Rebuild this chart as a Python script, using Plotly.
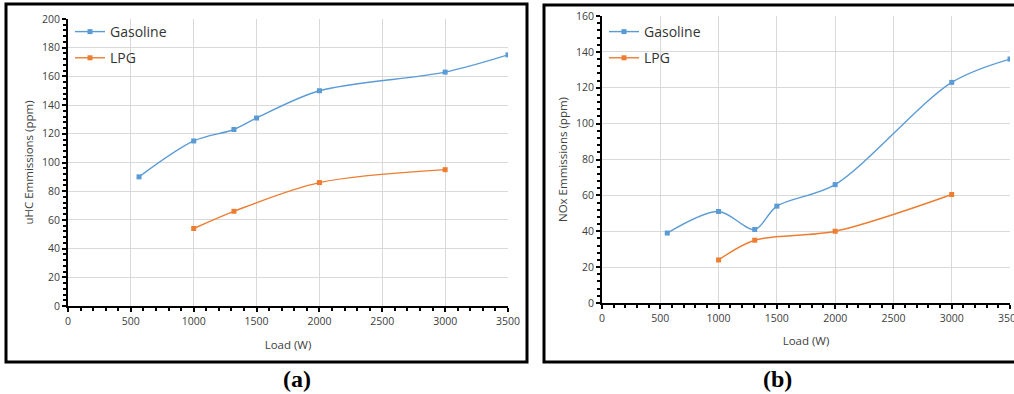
import plotly.graph_objects as go

# ---- data ----
a_gas_x = [565, 1000, 1320, 1500, 2000, 3000, 3500]
a_gas_y = [90, 115, 123, 131, 150, 163, 175]
a_lpg_x = [1000, 1320, 2000, 3000]
a_lpg_y = [54, 66, 86, 95]

b_gas_x = [560, 1000, 1310, 1500, 2000, 3000, 3500]
b_gas_y = [39, 51, 41, 54, 66, 123, 136]
b_lpg_x = [1000, 1310, 2000, 3000]
b_lpg_y = [24, 35, 40, 60.5]

series_names = ["Gasoline", "LPG"]
colors = ["#5B9BD5", "#ED7D31"]
x_ticks = [0, 500, 1000, 1500, 2000, 2500, 3000, 3500]
a_y_ticks = list(range(0, 201, 20))
b_y_ticks = list(range(0, 161, 20))
ytitle_a = "uHC Emmissions (ppm)"
ytitle_b = "NOx Emmissions (ppm)"
xtitle = "Load (W)"

W, H = 1014, 394
FONT = "Open Sans"

fig = go.Figure()

def add(x, y, name, color, xa, ya, leg, grp):
    fig.add_trace(go.Scatter(
        x=x, y=y, name=name, mode="lines+markers",
        line=dict(color=color, width=1.4, shape="spline", smoothing=0.9),
        marker=dict(symbol="square", size=5, color=color),
        xaxis=xa, yaxis=ya, legend=leg, legendgroup=grp + leg))

add(a_gas_x, a_gas_y, series_names[0], colors[0], "x", "y", "legend", "g")
add(a_lpg_x, a_lpg_y, series_names[1], colors[1], "x", "y", "legend", "l")
add(b_gas_x, b_gas_y, series_names[0], colors[0], "x2", "y2", "legend2", "g")
add(b_lpg_x, b_lpg_y, series_names[1], colors[1], "x2", "y2", "legend2", "l")

def px_x(p):
    return p / W

def px_y(p):
    return 1 - p / H

axis_common = dict(
    showline=True, linecolor="black", linewidth=2,
    ticks="outside", ticklen=4, tickwidth=1.5, tickcolor="black",
    showgrid=True, gridcolor="#d9d9d9", gridwidth=1,
    zeroline=False, automargin=False, ticklabeloverflow="allow",
    tickfont=dict(family=FONT, size=10.5, color="#404040"),
)
title_font = dict(family=FONT, size=11.5, color="#404040")

fig.update_layout(
    width=W, height=H,
    margin=dict(l=0, r=0, t=0, b=0, autoexpand=False),
    paper_bgcolor="white", plot_bgcolor="white",
    showlegend=True,
    xaxis=dict(domain=[px_x(68), px_x(508)], range=[0, 3500], tickvals=x_ticks,
               anchor="y",
               minor=dict(dtick=100, ticks="outside", ticklen=3, tickcolor="black", showgrid=False),
               title=dict(text=xtitle, font=title_font, standoff=14),
               **axis_common),
    yaxis=dict(domain=[px_y(306), px_y(19)], range=[0, 200], tickvals=a_y_ticks,
               anchor="x",
               minor=dict(dtick=4, ticks="outside", ticklen=3, tickcolor="black", showgrid=False),
               title=dict(text=ytitle_a, font=title_font, standoff=6),
               **axis_common),
    xaxis2=dict(domain=[px_x(602), px_x(1010)], range=[0, 3500], tickvals=x_ticks,
                anchor="y2",
                minor=dict(dtick=100, ticks="outside", ticklen=3, tickcolor="black", showgrid=False),
                title=dict(text=xtitle, font=title_font, standoff=13),
                **axis_common),
    yaxis2=dict(domain=[px_y(303), px_y(16)], range=[0, 160], tickvals=b_y_ticks,
                anchor="x2",
                minor=dict(dtick=4, ticks="outside", ticklen=3, tickcolor="black", showgrid=False),
                title=dict(text=ytitle_b, font=title_font, standoff=6),
                **axis_common),
    legend=dict(x=px_x(70), y=px_y(16), xanchor="left", yanchor="top",
                bgcolor="rgba(0,0,0,0)", font=dict(family=FONT, size=14, color="#333"),
                traceorder="grouped", tracegroupgap=5, itemwidth=30),
    legend2=dict(x=px_x(604), y=px_y(16), xanchor="left", yanchor="top",
                 bgcolor="rgba(0,0,0,0)", font=dict(family=FONT, size=14, color="#333"),
                 traceorder="grouped", tracegroupgap=5, itemwidth=30),
    shapes=[
        dict(type="rect", xref="paper", yref="paper",
             x0=px_x(6), x1=px_x(527), y0=px_y(362), y1=px_y(4),
             line=dict(color="black", width=3)),
        dict(type="rect", xref="paper", yref="paper",
             x0=px_x(544), x1=px_x(1030), y0=px_y(362), y1=px_y(5),
             line=dict(color="black", width=3)),
    ],
    annotations=[
        dict(text="<b>(a)</b>", x=px_x(297), y=px_y(379), xref="paper", yref="paper",
             xanchor="center", yanchor="middle",
             showarrow=False, font=dict(family="Liberation Serif", size=24, color="black")),
        dict(text="<b>(b)</b>", x=px_x(777), y=px_y(379), xref="paper", yref="paper",
             xanchor="center", yanchor="middle",
             showarrow=False, font=dict(family="Liberation Serif", size=24, color="black")),
    ],
)

fig.write_html("out.html")
